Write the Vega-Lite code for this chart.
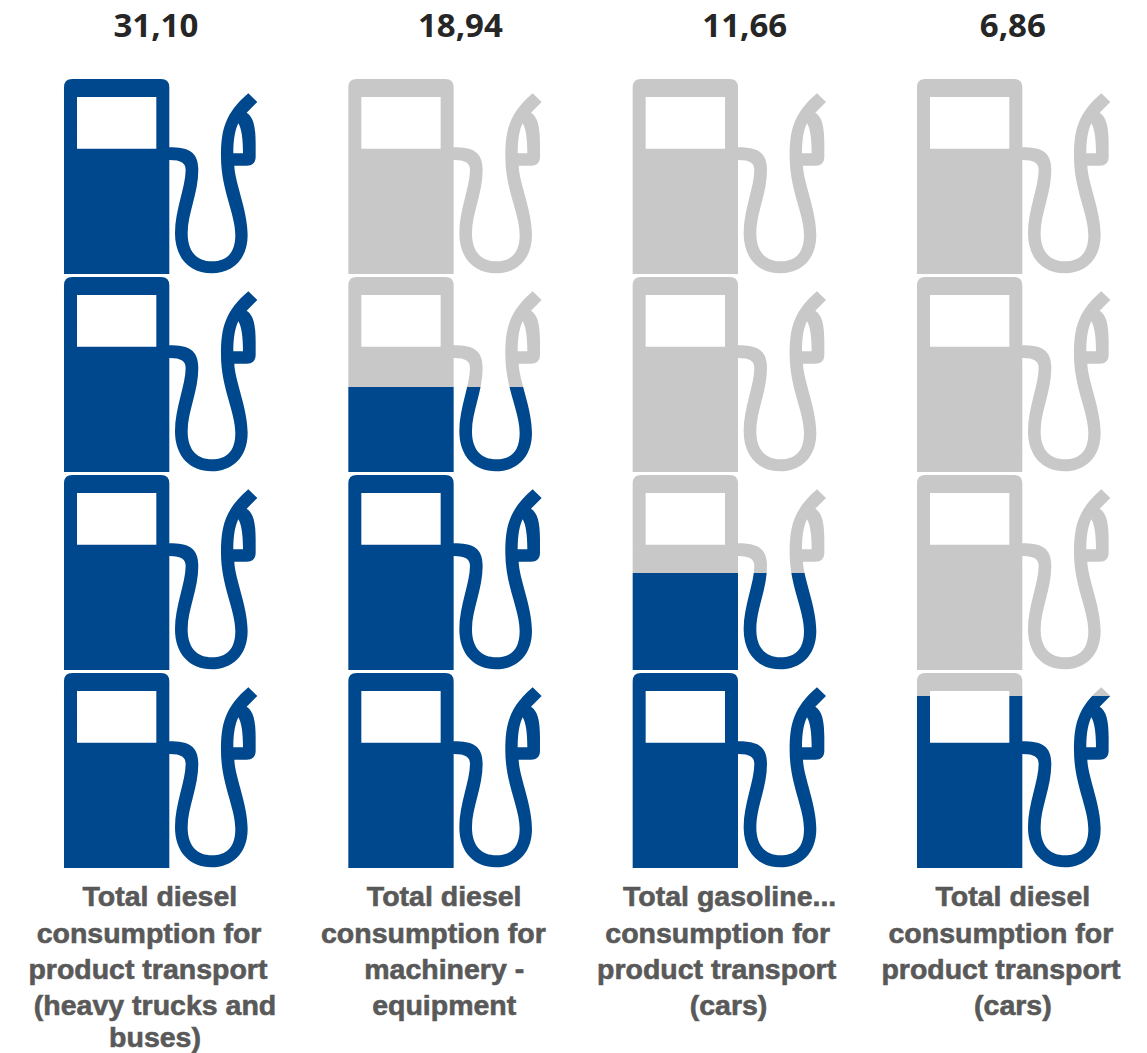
{
"$schema":"https://vega.github.io/schema/vega-lite/v6.json",
"width":1147,"height":1053,
"autosize":{"type":"none"},
"padding":0,
"background":"white",
"config":{"view":{"stroke":null}},
"datasets":{
"icons":[
{"col":1,"level":1,"fuel":1},{"col":1,"level":2,"fuel":1},{"col":1,"level":3,"fuel":1},{"col":1,"level":4,"fuel":1},
{"col":2,"level":1,"fuel":1},{"col":2,"level":2,"fuel":1},{"col":2,"level":3,"fuel":0.436},{"col":2,"level":4,"fuel":0},
{"col":3,"level":1,"fuel":1},{"col":3,"level":2,"fuel":0.5},{"col":3,"level":3,"fuel":0},{"col":3,"level":4,"fuel":0},
{"col":4,"level":1,"fuel":0.882},{"col":4,"level":2,"fuel":0},{"col":4,"level":3,"fuel":0},{"col":4,"level":4,"fuel":0}
],
"totals":[
{"col":0.982,"level":4.756,"label":"31,10"},
{"col":2.053,"level":4.756,"label":"18,94"},
{"col":3.053,"level":4.756,"label":"11,66"},
{"col":3.996,"level":4.756,"label":"6,86"}
],
"names":[
{"col":0.996,"level":0.362,"label":"Total diesel"},
{"col":0.958,"level":0.175,"label":"consumption for"},
{"col":0.954,"level":-0.007,"label":"product transport"},
{"col":0.979,"level":-0.188,"label":"(heavy trucks and"},
{"col":0.979,"level":-0.35,"label":"buses)"},
{"col":1.996,"level":0.362,"label":"Total diesel"},
{"col":1.958,"level":0.175,"label":"consumption for"},
{"col":1.996,"level":-0.007,"label":"machinery -"},
{"col":1.996,"level":-0.188,"label":"equipment"},
{"col":3.0,"level":0.362,"label":"Total gasoline..."},
{"col":2.958,"level":0.175,"label":"consumption for"},
{"col":2.954,"level":-0.007,"label":"product transport"},
{"col":2.996,"level":-0.188,"label":"(cars)"},
{"col":3.996,"level":0.362,"label":"Total diesel"},
{"col":3.954,"level":0.175,"label":"consumption for"},
{"col":3.954,"level":-0.007,"label":"product transport"},
{"col":3.996,"level":-0.188,"label":"(cars)"}
]
},
"encoding":{
"x":{"field":"col","type":"quantitative","scale":{"domain":[0.4338,4.4678],"nice":false,"zero":false},"axis":null},
"y":{"field":"level","type":"quantitative","scale":{"domain":[-0.4259,4.8923],"nice":false,"zero":false},"axis":null}
},
"layer":[
{"data":{"name":"icons"},
"mark":{"type":"point","filled":true,"opacity":1,"strokeWidth":0,"size":0.4444,
"shape":"M-266,-293 L0,-293 Q25,-293 25,-268 L25,292 L-291,292 L-291,-268 Q-291,-293 -266,-293 Z M-252,-239 L-252,-84 L-14,-84 L-14,-239 Z M25,-88 C82,-88 112,-75 112,-20 C112,50 80,110 80,170 C80,230 112,254 152,254 C197,254 223,230 223,175 C223,110 180,40 180,-60 C180,-140 192,-190 262,-250 L289,-224 L257,-192 C277,-180 284,-150 284,-100 L284,-60 C284,-42 274,-33 257,-33 L220,-33 C222,20 260,100 260,175 C260,250 212,290 152,290 C87,290 42,245 42,170 C42,100 74,30 74,-20 C74,-40 62,-50 25,-50 Z M232,-160 C222,-140 217,-110 217,-70 L246,-70 C246,-110 242,-145 232,-160 Z"},
"encoding":{
"fill":{"condition":[
{"test":"datum.fuel==1","value":"#00488d"},
{"test":"datum.fuel==0.436","value":{"gradient":"linear","x1":0,"y1":0,"x2":0,"y2":1,"stops":[{"offset":0,"color":"#c8c8c8"},{"offset":0.564,"color":"#c8c8c8"},{"offset":0.564,"color":"#00488d"},{"offset":1,"color":"#00488d"}]}},
{"test":"datum.fuel==0.5","value":{"gradient":"linear","x1":0,"y1":0,"x2":0,"y2":1,"stops":[{"offset":0,"color":"#c8c8c8"},{"offset":0.5,"color":"#c8c8c8"},{"offset":0.5,"color":"#00488d"},{"offset":1,"color":"#00488d"}]}},
{"test":"datum.fuel==0.882","value":{"gradient":"linear","x1":0,"y1":0,"x2":0,"y2":1,"stops":[{"offset":0,"color":"#c8c8c8"},{"offset":0.118,"color":"#c8c8c8"},{"offset":0.118,"color":"#00488d"},{"offset":1,"color":"#00488d"}]}}
],"value":"#c8c8c8"}
}},
{"data":{"name":"totals"},
"mark":{"type":"text","font":"Open Sans","fontWeight":"bold","fontSize":33,"color":"#262626","align":"center","baseline":"middle"},
"encoding":{"text":{"field":"label"}}},
{"data":{"name":"names"},
"mark":{"type":"text","font":"Liberation Sans","fontWeight":"bold","fontSize":28.5,"color":"#595959","stroke":"#595959","strokeWidth":0.6,"align":"center","baseline":"middle"},
"encoding":{"text":{"field":"label"}}}
]
}
